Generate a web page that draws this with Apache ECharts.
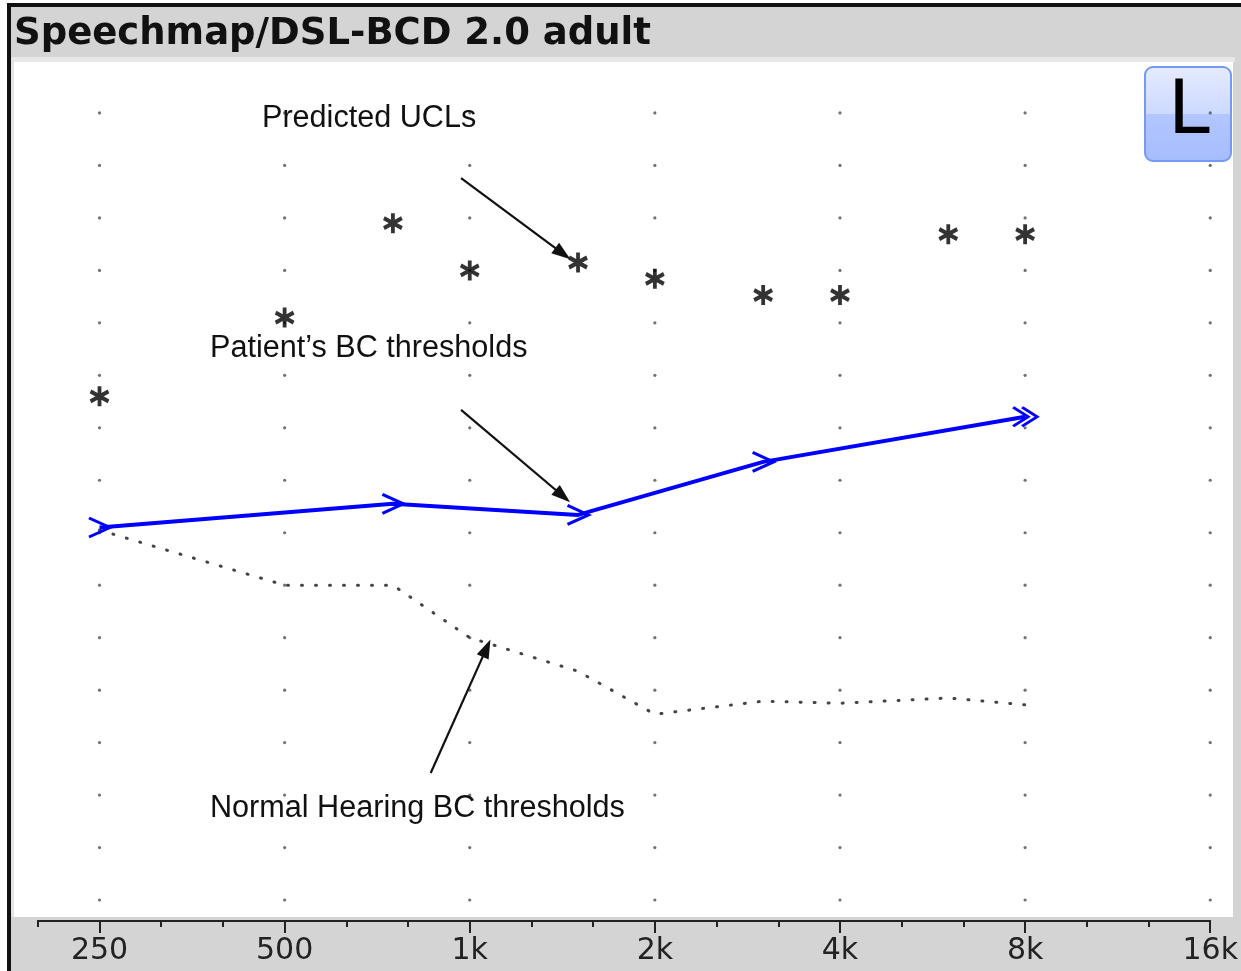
<!DOCTYPE html>
<html>
<head>
<meta charset="utf-8">
<title>Speechmap/DSL-BCD 2.0 adult</title>
<script src="https://cdn.jsdelivr.net/npm/echarts@6/dist/echarts.min.js"></script>
<style>
  html, body { margin: 0; padding: 0; background: #ffffff; }
  #chart { width: 1241px; height: 971px; }
</style>
</head>
<body>
<div id="chart"></div>
<script>
// ---- Data (frequencies in Hz, levels in dB) ----
const titleText = 'Speechmap/DSL-BCD 2.0 adult';
const earLabel = 'L';

// Predicted uncomfortable levels
const uclFreqs = [250, 500, 750, 1000, 1500, 2000, 3000, 4000, 6000, 8000];
const uclLevels = [96, 111, 129, 120, 121.5, 118.4, 115.3, 115.3, 126.9, 126.9];

// Patient's bone-conduction thresholds
const bcFreqs = [250, 750, 1500, 3000, 8000];
const bcLevels = [71, 75.5, 73.4, 83.5, 92.1];

// Normal-hearing bone-conduction thresholds
const normFreqs = [250, 500, 750, 1000, 1500, 2000, 3000, 4000, 6000, 8000];
const normLevels = [70.5, 60, 60, 50, 43.6, 35.4, 37.9, 37.5, 38.5, 37.2];

// Frequency axis labels (one per octave)
const tickFreqs = [250, 500, 1000, 2000, 4000, 8000, 16000];
const tickLabels = ['250', '500', '1k', '2k', '4k', '8k', '16k'];

// Dotted background grid: levels every 10 dB
const gridLevels = [0, 10, 20, 30, 40, 50, 60, 70, 80, 90, 100, 110, 120, 130, 140, 150];

// Callouts: text and arrows (arrow ends in [Hz, dB])
const callouts = [
  { text: 'Predicted UCLs', x: 262, y: 119, from: [968, 137.6], to: [1417, 123.2] },
  { text: 'Patient\u2019s BC thresholds', x: 210, y: 349, from: [968, 93.4], to: [1417, 77.0] },
  { text: 'Normal Hearing BC thresholds', x: 210, y: 809, from: [864, 24.2], to: [1065, 48.0] }
];

// ---- Helpers ----
const REF_HZ = 250;
const oct = f => Math.log2(f / REF_HZ);
const X_MIN = -1 / 3;              // one third-octave below 250 Hz
const X_MAX = oct(16000);
const Y_MIN = -4;
const Y_MAX = 160;

const thirdTicks = [];
for (let k = -1; k <= 18; k++) thirdTicks.push(k / 3);
const octTicks = tickFreqs.map(oct);

// one dot per octave column and 10 dB row
const gridDots = [];
tickFreqs.forEach(f => gridLevels.forEach(l => gridDots.push([oct(f), l])));

const chevron = 'path://M0,0 L10,9 L0,18';
const doubleChevron = 'path://M0,0 L10,9 L0,18 M6,0 L16,9 L6,18';
const asterisk = 'path://M8,0 L8,18 M0,4.5 L16,13.5 M0,13.5 L16,4.5';

const chart = echarts.init(document.getElementById('chart'), null, { renderer: 'canvas' });

const option = {
  animation: false,
  backgroundColor: '#ffffff',
  grid: { left: 37.8, right: 28, top: 60.5, bottom: 50, containLabel: false },
  xAxis: [
    {
      type: 'value', min: X_MIN, max: X_MAX, position: 'bottom', z: 5,
      axisLine: { show: true, onZero: false, lineStyle: { color: '#222', width: 2 } },
      axisTick: { show: true, customValues: thirdTicks, length: 6, lineStyle: { color: '#222', width: 2 } },
      axisLabel: {
        show: true, customValues: octTicks, margin: 15,
        fontSize: 30, fontFamily: 'DejaVu Sans', color: '#222',
        formatter: v => {
          const i = octTicks.findIndex(t => Math.abs(t - v) < 1e-6);
          return i >= 0 ? tickLabels[i] : '';
        }
      },
      splitLine: { show: false }
    },
    {
      type: 'value', min: X_MIN, max: X_MAX, position: 'bottom', z: 5,
      axisLine: { show: false, onZero: false },
      axisTick: { show: true, customValues: octTicks, length: 12, lineStyle: { color: '#222', width: 2 } },
      axisLabel: { show: false },
      splitLine: { show: false }
    }
  ],
  yAxis: { type: 'value', min: Y_MIN, max: Y_MAX, show: false, splitLine: { show: false } },
  graphic: [
    // frame and panels
    { type: 'rect', z: -10, silent: true, shape: { x: 7, y: 3, width: 1234, height: 968 }, style: { fill: '#111' } },
    { type: 'rect', z: -10, silent: true, shape: { x: 11, y: 7, width: 1230, height: 964 }, style: { fill: '#d4d4d4' } },
    { type: 'rect', z: -10, silent: true, shape: { x: 11, y: 57, width: 1224, height: 5 }, style: { fill: '#e8e8e8' } },
    { type: 'rect', z: -10, silent: true, shape: { x: 11, y: 57, width: 3, height: 860 }, style: { fill: '#e4e4e4' } },
    { type: 'rect', z: -10, silent: true, shape: { x: 14, y: 62, width: 1219, height: 855 }, style: { fill: '#ffffff' } },
    // title
    { type: 'text', z: 10, silent: true, style: { text: titleText, x: 14, y: 34, font: 'bold 37px "DejaVu Sans"', fill: '#111', verticalAlign: 'middle' } },
    // ear badge
    {
      type: 'rect', z: 1, silent: true,
      shape: { x: 1145, y: 67, width: 86, height: 94, r: 8 },
      style: {
        fill: { type: 'linear', x: 0, y: 0, x2: 0, y2: 1, colorStops: [
          { offset: 0, color: '#e6ecff' }, { offset: 0.5, color: '#ccd9ff' },
          { offset: 0.5, color: '#b2c6ff' }, { offset: 1, color: '#a6bdfd' } ] },
        stroke: '#769af3', lineWidth: 2
      }
    },
    {
      type: 'text', z: 1, silent: true,
      style: {
        text: earLabel, x: 1189, y: 114, font: '75px "DejaVu Sans"', align: 'center', verticalAlign: 'middle',
        fill: { type: 'linear', x: 0, y: 0, x2: 0, y2: 1, colorStops: [
          { offset: 0, color: '#8a8a8a' }, { offset: 0.5, color: '#222' }, { offset: 1, color: '#000' } ] }
      }
    }
  ].concat(callouts.map(c => ({
    type: 'text', z: 10, silent: true,
    style: { text: c.text, x: c.x, y: c.y, font: '30.6px "Liberation Sans"', fill: '#111', verticalAlign: 'middle' }
  }))),
  series: [
    {
      name: 'grid', type: 'scatter', silent: true, z: 2, clip: false,
      symbol: 'circle', symbolSize: 3.2,
      itemStyle: { color: '#4d4d4d' },
      emphasis: { disabled: true },
      data: gridDots
    },
    {
      name: 'Normal Hearing BC thresholds', type: 'line', silent: true, z: 3,
      symbol: 'none',
      lineStyle: { color: '#444', width: 3, type: [1, 13], cap: 'round' },
      data: normFreqs.map((f, i) => [oct(f), normLevels[i]])
    },
    {
      name: 'Patient\u2019s BC thresholds', type: 'line', silent: true, z: 4,
      symbol: (v, p) => (p.dataIndex === bcFreqs.length - 1 ? doubleChevron : chevron),
      symbolSize: (v, p) => (p.dataIndex === bcFreqs.length - 1 ? [24, 19] : [21, 19]),
      showAllSymbol: true,
      lineStyle: { color: '#0000ff', width: 4 },
      itemStyle: { color: 'none', borderColor: '#0000ff', borderWidth: 3 },
      emphasis: { disabled: true },
      data: bcFreqs.map((f, i) => [oct(f), bcLevels[i]])
    },
    {
      name: 'Predicted UCLs', type: 'scatter', silent: true, z: 5,
      symbol: asterisk, symbolSize: [18, 20],
      itemStyle: { color: 'none', borderColor: '#000', borderWidth: 4 },
      emphasis: { disabled: true },
      data: uclFreqs.map((f, i) => [oct(f), uclLevels[i]]),
      markLine: {
        silent: true, animation: false,
        symbol: ['none', 'triangle'], symbolSize: [13, 19],
        lineStyle: { color: '#111', width: 2.2, type: 'solid' },
        label: { show: false },
        emphasis: { disabled: true },
        data: callouts.map(c => [
          { coord: [oct(c.from[0]), c.from[1]] },
          { coord: [oct(c.to[0]), c.to[1]] }
        ])
      }
    }
  ]
};

chart.setOption(option);
</script>
</body>
</html>
